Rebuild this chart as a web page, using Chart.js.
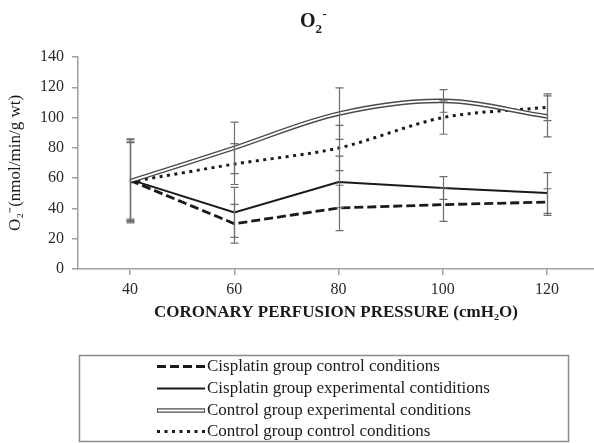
<!DOCTYPE html>
<html>
<head>
<meta charset="utf-8">
<script src="https://cdn.jsdelivr.net/npm/chart.js@4.4.1/dist/chart.umd.min.js"></script>
<style>
html,body{margin:0;padding:0;background:#fff;overflow:hidden}
#wrap{width:594px;height:443px;position:relative}
</style>
</head>
<body>
<div id="wrap"><canvas id="c"></canvas></div>
<script>
// ---- data ----
const pressures = [40, 60, 80, 100, 120];
const seriesLabels = [
  'Cisplatin group control conditions',
  'Cisplatin group experimental contiditions',
  'Control group experimental conditions',
  'Control group control conditions'
];
const cisplatinControl = [58.5, 29.9, 40.3, 42.5, 44.2];
const cisplatinControlErr = [25.5, 12.8, 15, 11, 8.8];
const cisplatinExperimental = [59, 37.4, 57.5, 53.5, 50.2];
const cisplatinExperimentalErr = [27, 16.5, 17, 7.5, 13.5];
const controlExperimental = [58, 80, 102.6, 111, 100.8];
const controlExperimentalErr = [27.5, 17, 17, 7.5, 13.5];
const controlControl = [57.5, 69.3, 79.9, 100, 106.8];
const controlControlErr = [26, 13.5, 15, 11, 8.8];
const yTickValues = [0, 20, 40, 60, 80, 100, 120, 140];
const chartTitle = ['O', '2', '-'];
const yAxisTitle = 'O\u2082\u207B(nmol/min/g wt)';
const xAxisTitle = 'CORONARY PERFUSION PRESSURE (cmH\u2082O)';

const SERIF = '"Liberation Serif", "Times New Roman", serif';
const pts = arr => pressures.map((x, i) => ({x: x, y: arr[i]}));

const errorBars = {
  id: 'errorBars',
  afterDatasetsDraw(chart) {
    const {ctx, scales: {x, y}} = chart;
    ctx.save();
    ctx.strokeStyle = '#6e6e6e';
    ctx.lineWidth = 1.2;
    chart.data.datasets.forEach(ds => {
      if (!ds.errors) return;
      ds.data.forEach((p, i) => {
        const e = ds.errors[i];
        const px = Math.round(x.getPixelForValue(p.x)) + 0.5;
        const top = y.getPixelForValue(p.y + e);
        const bot = y.getPixelForValue(p.y - e);
        ctx.beginPath();
        ctx.moveTo(px, top); ctx.lineTo(px, bot);
        ctx.moveTo(px - 4, top); ctx.lineTo(px + 4, top);
        ctx.moveTo(px - 4, bot); ctx.lineTo(px + 4, bot);
        ctx.stroke();
      });
    });
    ctx.restore();
  }
};

const titleAndLegend = {
  id: 'titleAndLegend',
  afterDraw(chart) {
    const ctx = chart.ctx;
    ctx.save();
    // title
    ctx.fillStyle = '#1a1a1a';
    ctx.textBaseline = 'alphabetic';
    ctx.textAlign = 'left';
    ctx.font = 'bold 20px ' + SERIF;
    let tx = 300;
    ctx.fillText(chartTitle[0], tx, 27);
    tx += ctx.measureText(chartTitle[0]).width;
    ctx.font = 'bold 13px ' + SERIF;
    ctx.fillText(chartTitle[1], tx, 33);
    const w2 = ctx.measureText(chartTitle[1]).width;
    ctx.fillText(chartTitle[2], tx + w2 + 0.5, 18);

    // legend box
    ctx.strokeStyle = '#8a8a8a';
    ctx.lineWidth = 1.5;
    ctx.strokeRect(79.5, 355.5, 489, 86);
    const items = chart.data.datasets.filter(d => !d.overlay);
    ctx.font = '17px ' + SERIF;
    ctx.textBaseline = 'middle';
    items.forEach((ds, i) => {
      const yy = Math.round(366 + i * 21.8) + 0.5;
      ctx.save();
      ctx.strokeStyle = ds.borderColor;
      ctx.lineWidth = ds.borderWidth;
      ctx.setLineDash(ds.borderDash || []);
      ctx.beginPath(); ctx.moveTo(157, yy); ctx.lineTo(205, yy); ctx.stroke();
      if (ds.doubleLine) {
        ctx.strokeStyle = '#fff'; ctx.lineWidth = 1.8;
        ctx.beginPath(); ctx.moveTo(158, yy); ctx.lineTo(204, yy); ctx.stroke();
      }
      ctx.restore();
      ctx.fillStyle = '#1a1a1a';
      ctx.fillText(ds.label, 207, yy);
    });
    ctx.restore();
  }
};

new Chart(document.getElementById('c'), {
  type: 'line',
  data: {
    datasets: [
      {label: seriesLabels[0], data: pts(cisplatinControl), errors: cisplatinControlErr,
       borderColor: '#1a1a1a', borderWidth: 2.8, borderDash: [9, 4], tension: 0, order: 1},
      {label: seriesLabels[1], data: pts(cisplatinExperimental), errors: cisplatinExperimentalErr,
       borderColor: '#1a1a1a', borderWidth: 2, tension: 0, order: 1},
      {label: seriesLabels[2], data: pts(controlExperimental), errors: controlExperimentalErr,
       borderColor: '#4a4a4a', borderWidth: 4.6, tension: 0.35, order: 1, doubleLine: true},
      {label: seriesLabels[2], data: pts(controlExperimental), overlay: true,
       borderColor: '#ffffff', borderWidth: 1.8, tension: 0.35, order: 0},
      {label: seriesLabels[3], data: pts(controlControl), errors: controlControlErr,
       borderColor: '#1a1a1a', borderWidth: 3, borderDash: [3, 4.5], tension: 0.3, order: 1}
    ]
  },
  options: {
    responsive: true,
    maintainAspectRatio: false,
    animation: false,
    events: [],
    layout: {padding: {top: 57, right: 0, bottom: 116, left: 0}},
    elements: {point: {radius: 0}, line: {fill: false, borderCapStyle: 'butt'}},
    plugins: {legend: {display: false}, title: {display: false}, tooltip: {enabled: false}},
    scales: {
      x: {
        type: 'linear', min: 30, max: 129,
        afterBuildTicks: s => { s.ticks = pressures.map(v => ({value: v})); },
        afterFit: s => { s.height = 58; },
        grid: {drawOnChartArea: false, drawTicks: true, tickLength: 6, color: '#a0a0a0', lineWidth: 1.5},
        border: {display: true, color: '#a0a0a0', width: 1.5},
        ticks: {font: {family: SERIF, size: 16}, color: '#2a2a2a', padding: 5, maxRotation: 0},
        title: {display: true, text: xAxisTitle, font: {family: SERIF, size: 17, weight: 'bold'},
                color: '#1a1a1a', padding: {top: 4, bottom: 4}}
      },
      y: {
        min: 0, max: 140,
        afterBuildTicks: s => { s.ticks = yTickValues.map(v => ({value: v})); },
        afterFit: s => { s.width = 78; },
        grid: {drawOnChartArea: false, drawTicks: true, tickLength: 6, color: '#a0a0a0', lineWidth: 1.5},
        border: {display: true, color: '#a0a0a0', width: 1.5},
        ticks: {font: {family: SERIF, size: 16}, color: '#2a2a2a', padding: 8},
        title: {display: true, text: yAxisTitle, font: {family: SERIF, size: 17},
                color: '#1a1a1a', padding: {top: 5, bottom: 0}}
      }
    }
  },
  plugins: [errorBars, titleAndLegend]
});
</script>
</body>
</html>
